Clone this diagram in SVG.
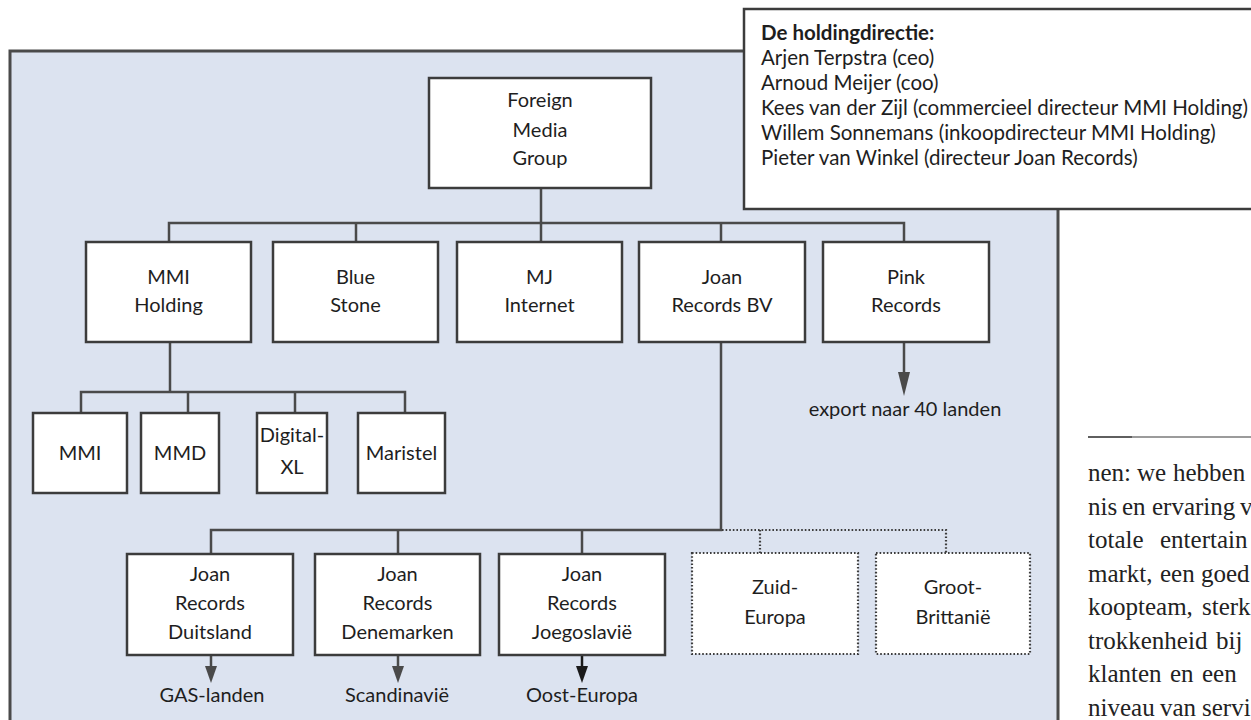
<svg xmlns="http://www.w3.org/2000/svg" width="1251" height="720" viewBox="0 0 1251 720">
  <defs>
    <style>
      .panel { fill: #dce3f0; stroke: #4a4a4a; stroke-width: 3; }
      .box { fill: #ffffff; stroke: #3c3c3c; stroke-width: 2.5; }
      .dbox { fill: #ffffff; stroke: #3c3c3c; stroke-width: 2.2; stroke-dasharray: 1.6 2; }
      .line { fill: none; stroke: #4a4a4a; stroke-width: 2.5; }
      .dline { fill: none; stroke: #3c3c3c; stroke-width: 2.2; stroke-dasharray: 1.6 2; }
      .t { font-family: Lato, "Open Sans", "DejaVu Sans", sans-serif; font-size: 20px; fill: #1e1e1e; text-anchor: middle; }
      .h { font-family: Lato, "Open Sans", "DejaVu Sans", sans-serif; font-size: 20.5px; fill: #1e1e1e; }
      .hb { font-weight: bold; }
      .s { font-family: "Liberation Serif", "DejaVu Serif", serif; font-size: 25px; fill: #222222; }
    </style>
  </defs>

  <rect width="1251" height="720" fill="#ffffff"/>
  <rect id="panel" class="panel" x="10" y="51" width="1048" height="690"/>

  <g id="connectors">
    <path class="line" d="M541,188 V242"/>
    <path class="line" d="M169,242 V223 H904 V242"/>
    <path class="line" d="M356,223 V242 M721,223 V242"/>
    <path class="line" d="M170,342 V392"/>
    <path class="line" d="M81,413 V392 H405 V413 M188,392 V413 M295,392 V413"/>
    <path class="line" d="M721,342 V530 H211 V554 M398,530 V554 M582,530 V554"/>
    <path class="dline" d="M722,530 H946 V553 M760,530 V553"/>
    <path class="line" d="M904,342 V373"/>
    <path d="M898,372 L910,372 L904,396 Z" fill="#4a4a4a"/>
    <path class="line" d="M211,655 V668"/>
    <path d="M205,666 L217,666 L211,683 Z" fill="#4a4a4a"/>
    <path class="line" d="M398,655 V668"/>
    <path d="M392,666 L404,666 L398,683 Z" fill="#4a4a4a"/>
    <path class="line" d="M582,655 V668" style="stroke:#1a1a1a"/>
    <path d="M576,666 L588,666 L582,683 Z" fill="#1a1a1a"/>
  </g>

  <g id="holdingdirectie">
    <rect x="744" y="9" width="520" height="200" fill="#ffffff" stroke="#3c3c3c" stroke-width="2.5"/>
    <text class="h hb" x="761" y="40">De holdingdirectie:</text>
    <text class="h" x="761" y="65">Arjen Terpstra (ceo)</text>
    <text class="h" x="761" y="90">Arnoud Meijer (coo)</text>
    <text class="h" x="761" y="115">Kees van der Zijl (commercieel directeur MMI Holding)</text>
    <text class="h" x="761" y="140">Willem Sonnemans (inkoopdirecteur MMI Holding)</text>
    <text class="h" x="761" y="165">Pieter van Winkel (directeur Joan Records)</text>
  </g>

  <g id="foreign-media-group">
    <rect class="box" x="429" y="78" width="222" height="110"/>
    <text class="t" x="540" y="107">Foreign</text>
    <text class="t" x="540" y="137">Media</text>
    <text class="t" x="540" y="165">Group</text>
  </g>

  <g id="mmi-holding">
    <rect class="box" x="86" y="242" width="165" height="100"/>
    <text class="t" x="168.5" y="284">MMI</text>
    <text class="t" x="168.5" y="312">Holding</text>
  </g>
  <g id="blue-stone">
    <rect class="box" x="273" y="242" width="165" height="100"/>
    <text class="t" x="355.5" y="284">Blue</text>
    <text class="t" x="355.5" y="312">Stone</text>
  </g>
  <g id="mj-internet">
    <rect class="box" x="457" y="242" width="165" height="100"/>
    <text class="t" x="539.5" y="284">MJ</text>
    <text class="t" x="539.5" y="312">Internet</text>
  </g>
  <g id="joan-records-bv">
    <rect class="box" x="639" y="242" width="166" height="100"/>
    <text class="t" x="722" y="284">Joan</text>
    <text class="t" x="722" y="312">Records BV</text>
  </g>
  <g id="pink-records">
    <rect class="box" x="823" y="242" width="166" height="100"/>
    <text class="t" x="906" y="284">Pink</text>
    <text class="t" x="906" y="312">Records</text>
  </g>
  <g id="export-label">
    <text class="t" x="905" y="416">export naar 40 landen</text>
  </g>

  <g id="mmi">
    <rect class="box" x="33" y="413" width="94" height="80"/>
    <text class="t" x="80" y="460">MMI</text>
  </g>
  <g id="mmd">
    <rect class="box" x="141" y="413" width="78" height="80"/>
    <text class="t" x="180" y="460">MMD</text>
  </g>
  <g id="digital-xl">
    <rect class="box" x="257" y="413" width="70" height="80"/>
    <text class="t" x="292" y="442">Digital-</text>
    <text class="t" x="292" y="474">XL</text>
  </g>
  <g id="maristel">
    <rect class="box" x="358" y="413" width="87" height="80"/>
    <text class="t" x="401.5" y="460">Maristel</text>
  </g>

  <g id="joan-duitsland">
    <rect class="box" x="127" y="554" width="166" height="101"/>
    <text class="t" x="210" y="581">Joan</text>
    <text class="t" x="210" y="610">Records</text>
    <text class="t" x="210" y="639">Duitsland</text>
  </g>
  <g id="joan-denemarken">
    <rect class="box" x="315" y="554" width="165" height="101"/>
    <text class="t" x="397.5" y="581">Joan</text>
    <text class="t" x="397.5" y="610">Records</text>
    <text class="t" x="397.5" y="639">Denemarken</text>
  </g>
  <g id="joan-joegoslavie">
    <rect class="box" x="499" y="554" width="166" height="101"/>
    <text class="t" x="582" y="581">Joan</text>
    <text class="t" x="582" y="610">Records</text>
    <text class="t" x="582" y="639">Joegoslavië</text>
  </g>
  <g id="zuid-europa">
    <rect class="dbox" x="692" y="553" width="166" height="101"/>
    <text class="t" x="775" y="594">Zuid-</text>
    <text class="t" x="775" y="624">Europa</text>
  </g>
  <g id="groot-brittannie">
    <rect class="dbox" x="876" y="553" width="154" height="101"/>
    <text class="t" x="953" y="594">Groot-</text>
    <text class="t" x="953" y="624">Brittanië</text>
  </g>

  <g id="bottom-labels">
    <text class="t" x="212" y="702">GAS-landen</text>
    <text class="t" x="397" y="702">Scandinavië</text>
    <text class="t" x="582" y="702">Oost-Europa</text>
  </g>

  <g id="side-text">
    <path d="M1088,437 H1132" stroke="#2a2a2a" stroke-width="1.6"/>
    <path d="M1132,437 H1251" stroke="#7a7a7a" stroke-width="1.3"/>
    <text class="s" y="481"><tspan x="1088">nen:</tspan><tspan x="1137">we</tspan><tspan x="1173">hebben</tspan></text>
    <text class="s" y="515"><tspan x="1088">nis</tspan><tspan x="1122">en</tspan><tspan x="1152">ervaring</tspan><tspan x="1240">v</tspan></text>
    <text class="s" y="548"><tspan x="1088">totale</tspan><tspan x="1160">entertain</tspan></text>
    <text class="s" y="582"><tspan x="1088">markt,</tspan><tspan x="1160">een</tspan><tspan x="1201">goed</tspan></text>
    <text class="s" y="615"><tspan x="1088">koopteam,</tspan><tspan x="1202">sterk</tspan></text>
    <text class="s" y="649"><tspan x="1088">trokkenheid</tspan><tspan x="1216">bij</tspan></text>
    <text class="s" y="682"><tspan x="1088">klanten</tspan><tspan x="1170">en</tspan><tspan x="1202">een</tspan></text>
    <text class="s" y="716"><tspan x="1088">niveau</tspan><tspan x="1160">van</tspan><tspan x="1202">servi</tspan></text>
  </g>
</svg>
